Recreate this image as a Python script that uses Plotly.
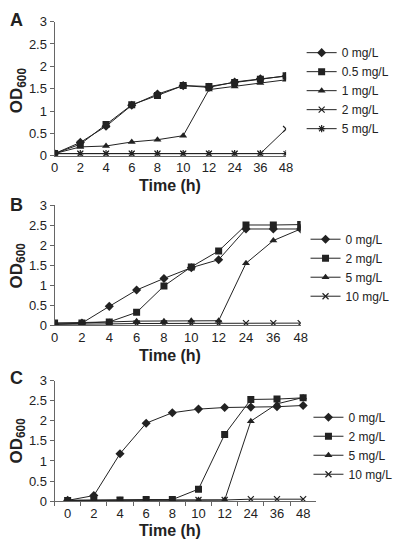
import plotly.graph_objects as go

times = ["0", "2", "4", "6", "8", "10", "12", "24", "36", "48"]

# Panel A
a_labels = ["0 mg/L", "0.5 mg/L", "1 mg/L", "2 mg/L", "5 mg/L"]
a_0 = [0.05, 0.30, 0.66, 1.13, 1.38, 1.57, 1.53, 1.65, 1.72, 1.78]
a_05 = [0.05, 0.26, 0.70, 1.14, 1.35, 1.57, 1.55, 1.64, 1.71, 1.79]
a_1 = [0.05, 0.20, 0.22, 0.31, 0.36, 0.45, 1.48, 1.55, 1.63, 1.70]
a_2 = [0.05, 0.05, 0.05, 0.05, 0.05, 0.05, 0.05, 0.05, 0.05, 0.60]
a_5 = [0.05, 0.05, 0.05, 0.05, 0.05, 0.05, 0.05, 0.05, 0.05, 0.05]

# Panel B
b_labels = ["0 mg/L", "2 mg/L", "5 mg/L", "10 mg/L"]
b_0 = [0.02, 0.05, 0.47, 0.88, 1.17, 1.44, 1.64, 2.41, 2.41, 2.41]
b_2 = [0.05, 0.05, 0.08, 0.32, 0.98, 1.46, 1.86, 2.51, 2.51, 2.52]
b_5 = [0.05, 0.06, 0.08, 0.10, 0.10, 0.11, 0.11, 1.55, 2.12, 2.41]
b_10 = [0.02, 0.02, 0.03, 0.04, 0.04, 0.04, 0.04, 0.05, 0.05, 0.05]

# Panel C
c_labels = ["0 mg/L", "2 mg/L", "5 mg/L", "10 mg/L"]
c_0 = [0.02, 0.14, 1.18, 1.94, 2.20, 2.29, 2.33, 2.34, 2.35, 2.38]
c_2 = [0.02, 0.03, 0.03, 0.04, 0.04, 0.30, 1.66, 2.53, 2.54, 2.57]
c_5 = [0.02, 0.02, 0.03, 0.03, 0.03, 0.03, 0.03, 1.99, 2.42, 2.58]
c_10 = [0.02, 0.02, 0.02, 0.02, 0.02, 0.03, 0.03, 0.05, 0.05, 0.05]

W, H = 403, 552
LC = "#222222"

def px_x(x):
    return x / W

def px_y(y):
    return (H - y) / H

fig = go.Figure()

def add(labels, series, symbols, xa, ya, legend):
    for lab, vals, sym in zip(labels, series, symbols):
        open_sym = sym.endswith("open")
        fig.add_trace(go.Scatter(
            x=times, y=vals, name=lab, mode="lines+markers",
            xaxis=xa, yaxis=ya, legend=legend,
            line=dict(color=LC, width=1),
            marker=dict(symbol=sym, size=7 if not open_sym else 6,
                        color=LC, line=dict(color=LC, width=1.2 if open_sym else 0)),
            showlegend=True,
        ))

add(a_labels, [a_0, a_05, a_1, a_2, a_5],
    ["diamond", "square", "triangle-up", "x-thin-open", "asterisk-open"], "x", "y", "legend")
add(b_labels, [b_0, b_2, b_5, b_10],
    ["diamond", "square", "triangle-up", "x-thin-open"], "x2", "y2", "legend2")
add(c_labels, [c_0, c_2, c_5, c_10],
    ["diamond", "square", "triangle-up", "x-thin-open"], "x3", "y3", "legend3")

tickfont = dict(family="Liberation Sans, Arial", size=13, color="#222")

def xaxis(dom, rng, anchor, boundaries=False):
    d = dict(domain=dom, type="category", range=rng, anchor=anchor,
             showline=True, linecolor="#666", linewidth=1, showgrid=False,
             zeroline=False, tickfont=tickfont, fixedrange=True)
    if boundaries:
        d.update(ticks="outside", tickson="boundaries", ticklen=4, tickcolor="#666")
    else:
        d.update(ticks="")
    return d

def yaxis(dom, anchor):
    return dict(domain=dom, range=[0, 3], dtick=0.5, anchor=anchor,
                showline=True, linecolor="#666", linewidth=1, showgrid=False,
                zeroline=False, ticks="outside", ticklen=4, tickcolor="#666",
                tickfont=tickfont, fixedrange=True)

fig.update_layout(
    width=W, height=H,
    margin=dict(l=0, r=0, t=0, b=0),
    paper_bgcolor="white", plot_bgcolor="white",
    font=dict(family="Liberation Sans, Arial", color="#222"),
    xaxis=xaxis([px_x(52), px_x(290)], [0, 9], "y"),
    yaxis=yaxis([px_y(153), px_y(15)], "x"),
    xaxis2=xaxis([px_x(52), px_x(305)], [0, 9], "y2"),
    yaxis2=yaxis([px_y(327), px_y(204)], "x2"),
    xaxis3=xaxis([px_x(52), px_x(321)], [-0.5, 9.5], "y3", boundaries=True),
    yaxis3=yaxis([px_y(508), px_y(384)], "x3"),
)

legfont = dict(family="Liberation Sans, Arial", size=12, color="#222")
for key, xl, yc in [("legend", 306, 86), ("legend2", 310, 268), ("legend3", 313, 451)]:
    fig.layout[key] = dict(x=px_x(xl), y=px_y(yc), xanchor="left", yanchor="middle",
                           font=legfont, bgcolor="rgba(0,0,0,0)", itemwidth=30,
                           tracegroupgap=0)

anns = []
for letter, y in [("A", 13), ("B", 204), ("C", 381)]:
    anns.append(dict(text="<b>%s</b>" % letter, x=px_x(13), y=px_y(y), xref="paper", yref="paper",
                     xanchor="center", yanchor="middle", showarrow=False,
                     font=dict(family="Liberation Sans, Arial", size=18, color="#222")))
for y in [183, 358, 538]:
    anns.append(dict(text="<b>Time (h)</b>", x=px_x(171), y=px_y(y), xref="paper", yref="paper",
                     xanchor="center", yanchor="middle", showarrow=False,
                     font=dict(family="Liberation Sans, Arial", size=16, color="#222")))
for y in [86, 266, 446]:
    anns.append(dict(text="<b>OD<sub>600</sub></b>", x=px_x(14), y=px_y(y), xref="paper", yref="paper",
                     xanchor="center", yanchor="middle", showarrow=False, textangle=-90,
                     font=dict(family="Liberation Sans, Arial", size=17, color="#222")))
fig.update_layout(annotations=anns)

fig.write_html("out.html", config={"displayModeBar": False},
               post_script="document.body.style.margin='0';document.body.style.overflow='hidden';")
